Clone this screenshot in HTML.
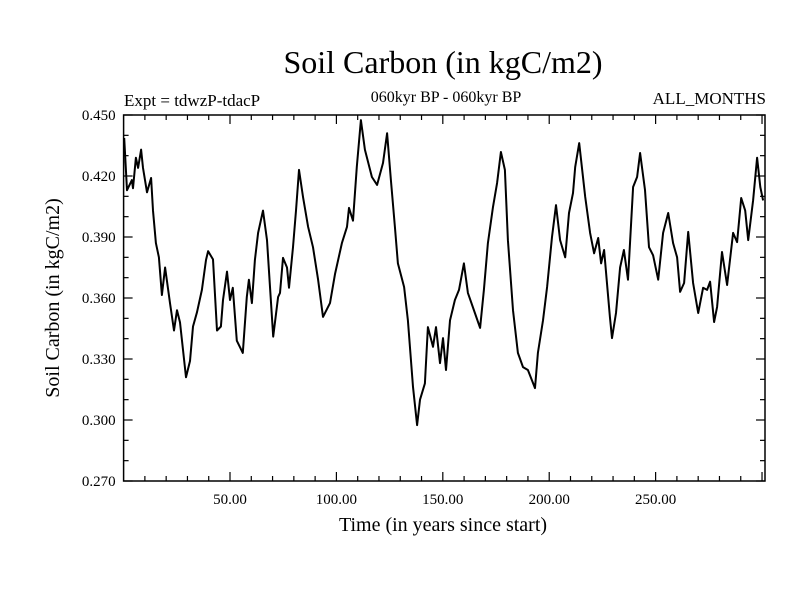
<!DOCTYPE html>
<html><head><meta charset="utf-8"><style>
body{margin:0;background:#fff}
svg text{font-family:"Liberation Serif",serif;fill:#000}
</style></head><body>
<svg id="chart" width="800" height="600" viewBox="0 0 800 600" xmlns="http://www.w3.org/2000/svg">
<rect width="800" height="600" fill="#fff"/>
<text x="443" y="73" font-size="32" text-anchor="middle">Soil Carbon (in kgC/m2)</text>
<text x="124" y="106" font-size="17">Expt = tdwzP-tdacP</text>
<text x="446" y="102" font-size="16" text-anchor="middle">060kyr BP - 060kyr BP</text>
<text x="766" y="104" font-size="17" text-anchor="end">ALL_MONTHS</text>
<text x="443" y="531" font-size="20" text-anchor="middle">Time (in years since start)</text>
<text x="0" y="0" font-size="20" text-anchor="middle" transform="translate(59,298) rotate(-90)">Soil Carbon (in kgC/m2)</text>
<g id="ticks"></g>
<g id="labels"></g>
<path id="series" fill="none" stroke="#000" stroke-width="2" stroke-linejoin="round"/>
<rect x="123.6" y="115" width="641.4" height="366" fill="none" stroke="#000" stroke-width="1.5"/>
</svg>
<script>
const years=[0.3,1.6,3.9,4.4,5.8,6.8,8.2,9.1,11,12.9,13.8,15.2,16.6,18,19.5,21.8,23.7,25.1,26.5,29.3,31.2,32.6,34.5,36.8,38.7,39.7,42,43.9,45.7,46.7,48.6,50,51.3,53.2,56,57.9,58.9,60.3,61.7,63.2,65.5,67.4,68.8,70.3,72.6,73.5,74.9,76.8,77.7,79.6,81,82.4,84.3,86.7,89,91.4,93.7,97,99.4,102.6,105,105.9,107.8,109.6,111.5,113.4,116.7,119.1,121.9,123.8,125.6,127.5,128.9,131.8,133.6,136,137.9,139.3,141.6,143,145.4,146.8,148.7,150.1,151.5,153.4,155.7,157.6,159.9,161.8,165.1,167.5,169.3,171.2,173.6,175.5,177.3,179.2,180.6,183,185.3,187.7,190,193.3,194.7,197.1,199,201.3,203.2,205.1,207.5,209.3,211.2,212.2,214.1,216.9,219.2,221.1,223,224.4,225.8,228.5,229.5,231.4,233.3,235.1,237,239.4,241.3,242.7,245,246.9,248.8,251.2,253.5,255.9,258.2,260.1,261.5,263.4,265.3,267.6,270,272.3,274.2,275.6,277.5,278.9,281.2,283.6,286.4,288.3,290.2,292.1,293.5,295.8,297.7,299.2,300.5];
const values=[0.4387,0.413,0.418,0.414,0.429,0.424,0.433,0.424,0.412,0.419,0.403,0.387,0.380,0.3615,0.375,0.3575,0.344,0.354,0.348,0.321,0.329,0.346,0.353,0.364,0.3787,0.383,0.379,0.344,0.346,0.359,0.373,0.359,0.365,0.339,0.333,0.3605,0.369,0.3575,0.3787,0.392,0.403,0.3885,0.3654,0.341,0.3605,0.3625,0.3797,0.375,0.365,0.385,0.403,0.423,0.4097,0.395,0.385,0.369,0.3507,0.3575,0.372,0.387,0.395,0.4043,0.398,0.4245,0.4475,0.433,0.4195,0.4156,0.4264,0.441,0.418,0.395,0.377,0.3654,0.349,0.3163,0.2975,0.310,0.318,0.3457,0.336,0.3457,0.328,0.3403,0.3246,0.349,0.359,0.364,0.377,0.3625,0.3526,0.3453,0.364,0.387,0.4048,0.4166,0.4318,0.423,0.3885,0.354,0.333,0.326,0.3246,0.3157,0.333,0.349,0.3654,0.39,0.4057,0.3885,0.380,0.4018,0.4116,0.4245,0.4362,0.4097,0.392,0.382,0.3895,0.377,0.3836,0.3507,0.3403,0.3526,0.375,0.3836,0.369,0.4146,0.4195,0.4313,0.4131,0.385,0.381,0.369,0.392,0.4018,0.387,0.380,0.363,0.3674,0.3925,0.3674,0.3526,0.365,0.364,0.368,0.3482,0.3556,0.3826,0.3664,0.392,0.3875,0.4092,0.403,0.3885,0.408,0.429,0.4146,0.408];
const yTickLabels=["0.270","0.300","0.330","0.360","0.390","0.420","0.450"];
const xTickLabels=["50.00","100.00","150.00","200.00","250.00"];
const X0=123.6,X1=765,Y0=481,Y1=115,XMIN=0,XMAX=301.4,YMIN=0.27,YMAX=0.45;
const sx=v=>X0+(v-XMIN)/(XMAX-XMIN)*(X1-X0);
const sy=v=>Y0-(v-YMIN)/(YMAX-YMIN)*(Y0-Y1);
const NS="http://www.w3.org/2000/svg";
let d="";
years.forEach((t,i)=>{d+=(i?"L":"M")+sx(t).toFixed(1)+","+sy(values[i]).toFixed(1);});
document.getElementById("series").setAttribute("d",d);
const tg=document.getElementById("ticks"),lg=document.getElementById("labels");
function line(x1,y1,x2,y2,name){const l=document.createElementNS(NS,"line");
l.setAttribute("x1",x1);l.setAttribute("y1",y1);l.setAttribute("x2",x2);l.setAttribute("y2",y2);
l.setAttribute("stroke","#000");l.setAttribute("stroke-width","1.2");


tg.appendChild(l);}
for(let k=0;k<=18;k++){const v=0.27+k*0.01,y=sy(v),len=(k%3==0)?9:5;
line(X0,y,X0+len,y,'y-tick');line(X1,y,X1-len,y,'y-tick-right');}
for(let t=10;t<=300;t+=10){const x=sx(t),len=(t%50==0)?9:5;
line(x,Y0,x,Y0-len,'x-tick');line(x,Y1,x,Y1+len,'x-tick-top');}
yTickLabels.forEach(s=>{const e=document.createElementNS(NS,"text");
e.setAttribute("x",X0-8);e.setAttribute("y",sy(parseFloat(s))+5);e.setAttribute("font-size","15");e.setAttribute("text-anchor","end");
e.textContent=s;


lg.appendChild(e);});
xTickLabels.forEach(s=>{const e=document.createElementNS(NS,"text");
e.setAttribute("x",sx(parseFloat(s)));e.setAttribute("y",Y0+23);e.setAttribute("font-size","15");e.setAttribute("text-anchor","middle");
e.textContent=s;


lg.appendChild(e);});
</script>
</body></html>
